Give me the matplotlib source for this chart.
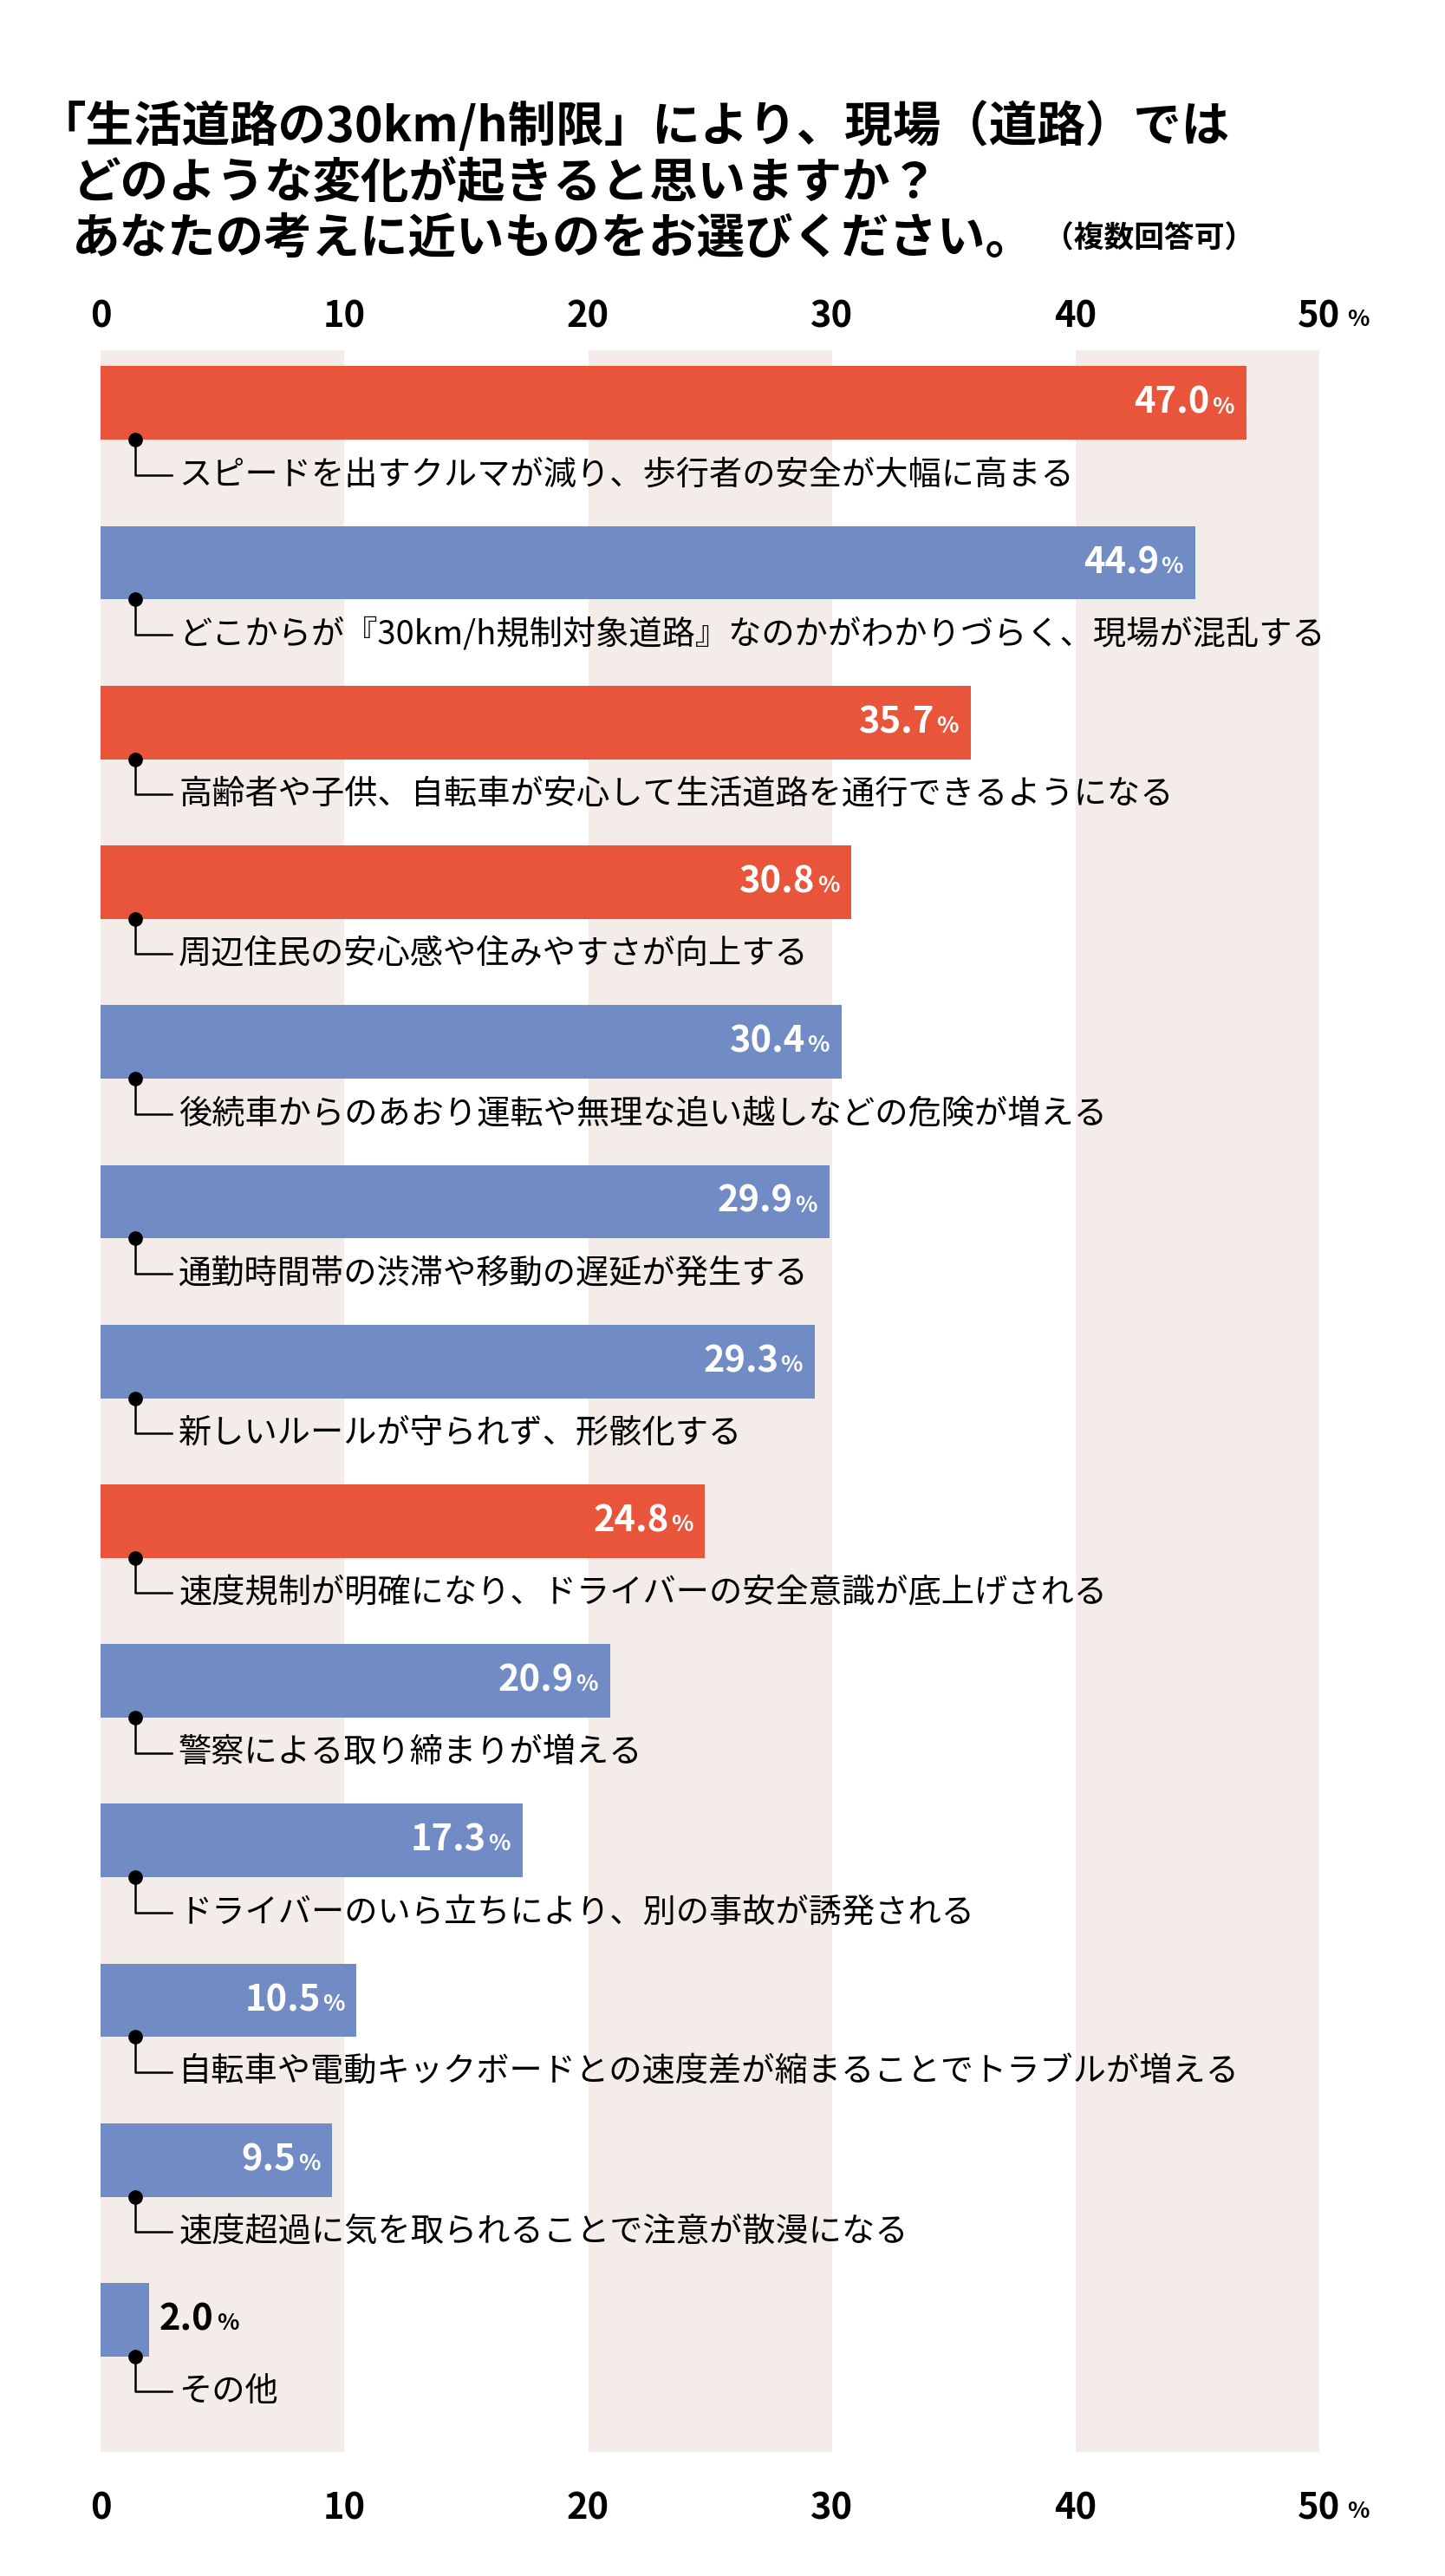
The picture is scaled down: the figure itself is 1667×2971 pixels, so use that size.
"""Survey chart: expected changes from 30km/h limit on residential roads."""

import matplotlib.pyplot as plt

plt.rcParams["font.family"] = ["Noto Sans CJK JP", "DejaVu Sans"]

LABELS = [
    "スピードを出すクルマが減り、歩行者の安全が大幅に高まる",
    "どこからが『30km/h規制対象道路』なのかがわかりづらく、現場が混乱する",
    "高齢者や子供、自転車が安心して生活道路を通行できるようになる",
    "周辺住民の安心感や住みやすさが向上する",
    "後続車からのあおり運転や無理な追い越しなどの危険が増える",
    "通勤時間帯の渋滞や移動の遅延が発生する",
    "新しいルールが守られず、形骸化する",
    "速度規制が明確になり、ドライバーの安全意識が底上げされる",
    "警察による取り締まりが増える",
    "ドライバーのいら立ちにより、別の事故が誘発される",
    "自転車や電動キックボードとの速度差が縮まることでトラブルが増える",
    "速度超過に気を取られることで注意が散漫になる",
    "その他",
]
VALUES = [47.0, 44.9, 35.7, 30.8, 30.4, 29.9, 29.3, 24.8, 20.9, 17.3, 10.5, 9.5, 2.0]
POSITIVE = [True, False, True, True, False, False, False, True, False, False, False, False, False]
TICKS = [0, 10, 20, 30, 40, 50]

RED = "#E8553A"
BLUE = "#718BC4"
STRIPE = "#F3ECE8"

fig = plt.figure(figsize=(16.67, 29.71), dpi=100)
ax = fig.add_axes([0.0697, 0.048, 0.8433, 0.816])
ax.set_xlim(0, 50)
ax.set_ylim(12.83, -0.33)
ax.axis("off")

for start in (0, 20, 40):
    ax.axvspan(start, start + 10, color=STRIPE, zorder=0, lw=0)

bar_h = 0.46
for i, (label, value, pos) in enumerate(zip(LABELS, VALUES, POSITIVE)):
    ax.barh(i, value, height=bar_h, color=RED if pos else BLUE, zorder=2, lw=0)
    if value > 5:
        ax.annotate(f"{value:.1f}", (value, i), xytext=(-30, 0), textcoords="offset points",
                    ha="right", va="center", color="white", fontsize=30, fontweight="bold", zorder=3)
        ax.annotate("%", (value, i), xytext=(-10, -3), textcoords="offset points",
                    ha="right", va="center", color="white", fontsize=19, fontweight="bold", zorder=3)
    else:
        ax.annotate(f"{value:.1f}", (value, i), xytext=(8, 0), textcoords="offset points",
                    ha="left", va="center", color="black", fontsize=30, fontweight="bold", zorder=3)
        ax.annotate("%", (value, i), xytext=(56, -3), textcoords="offset points",
                    ha="left", va="center", color="black", fontsize=19, fontweight="bold", zorder=3)
    top = i + bar_h / 2
    text_y = i + 0.45
    ax.plot([1.4], [top], "o", color="black", ms=11, zorder=4)
    ax.plot([1.4, 1.4, 2.9], [top, text_y, text_y], color="black", lw=1.8, zorder=4)
    ax.text(3.2, text_y, label, ha="left", va="center", fontsize=27.5, zorder=4)

for y in (0.877, 0.026):
    for t in TICKS:
        fig.text(0.0697 + 0.8433 * t / 50, y, str(t), ha="center", va="center",
                 fontsize=30, fontweight="bold")
    fig.text(0.0697 + 0.8433 + 0.019, y - 0.001, "%", ha="left", va="center",
             fontsize=19, fontweight="bold")

title_kw = dict(ha="left", va="center", fontsize=40, fontweight="bold")
fig.text(0.026, 0.951, "「生活道路の30km/h制限」により、現場（道路）では", **title_kw)
fig.text(0.050, 0.929, "どのような変化が起きると思いますか？", **title_kw)
fig.text(0.050, 0.907, "あなたの考えに近いものをお選びください。", **title_kw)
fig.text(0.722, 0.9075, "（複数回答可）", ha="left", va="center", fontsize=25, fontweight="bold")

fig.savefig("out.png", dpi=100)
